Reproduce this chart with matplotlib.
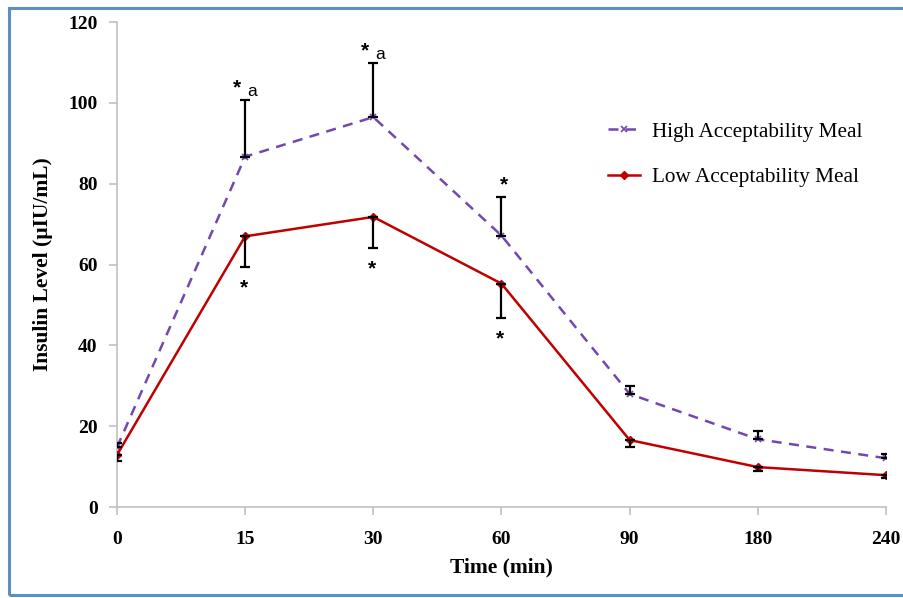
import matplotlib.pyplot as plt
from matplotlib.patches import Rectangle
import numpy as np

# data
time_labels = ['0', '15', '30', '60', '90', '180', '240']
high_meal = [14.8, 86.7, 96.5, 67.2, 28.0, 16.8, 12.1]
high_err = [1.0, 14.0, 13.4, 9.5, 2.0, 2.0, 1.0]
low_meal = [12.9, 67.0, 71.8, 55.3, 16.6, 9.9, 7.9]
low_err = [1.6, 7.6, 7.7, 8.5, 1.7, 1.0, 0.7]

# significance marks
high_marks = [1, 2]      # "* a" above high
high_star_only = [3]     # "*" above high
low_star = [1, 2, 3]     # "*" below low

x = np.arange(len(time_labels))
serif = 'Liberation Serif'
sans = 'Liberation Sans'

fig = plt.figure(figsize=(9.04, 5.98), dpi=100)
ax = fig.add_axes([0.1294, 0.152, 0.8506, 0.811])

purple = '#7447b0'
red = '#c00000'

ax.plot(x, high_meal, linestyle=(0, (4, 3)), color=purple, lw=1.8, marker='x',
        ms=5, mew=1.2, label='High Acceptability Meal', zorder=3)
ax.plot(x, low_meal, linestyle='-', color=red, lw=1.8, marker='D',
        ms=4, label='Low Acceptability Meal', zorder=3)

zeros = np.zeros(len(x))
ax.errorbar(x, high_meal, yerr=[zeros, high_err], fmt='none', ecolor='black',
            elinewidth=1.6, capsize=3.5, capthick=1.6, zorder=4)
ax.errorbar(x, low_meal, yerr=[low_err, zeros], fmt='none', ecolor='black',
            elinewidth=1.6, capsize=3.5, capthick=1.6, zorder=4)

for i in high_marks:
    top = high_meal[i] + high_err[i]
    ax.annotate('*', (x[i], top), xytext=(-6, 9), textcoords='offset points',
                ha='center', va='center', fontsize=15, family=sans, fontweight='bold')
    ax.annotate('a', (x[i], top), xytext=(5, 6), textcoords='offset points',
                ha='center', va='center', fontsize=12.5, family=sans)
for i in high_star_only:
    top = high_meal[i] + high_err[i]
    ax.annotate('*', (x[i], top), xytext=(2, 9), textcoords='offset points',
                ha='center', va='center', fontsize=15, family=sans, fontweight='bold')
for i in low_star:
    bot = low_meal[i] - low_err[i]
    ax.annotate('*', (x[i], bot), xytext=(-1, -15), textcoords='offset points',
                ha='center', va='center', fontsize=15, family=sans, fontweight='bold')

ax.set_xlim(0, len(x) - 1)
ax.set_ylim(0, 120)
ax.set_yticks(np.arange(0, 121, 20))
ax.set_xticks(x)
ax.set_xticklabels(time_labels)

for s in ['top', 'right']:
    ax.spines[s].set_visible(False)
for s in ['left', 'bottom']:
    ax.spines[s].set_color('#c0c0c0')
    ax.spines[s].set_linewidth(1.2)
ax.tick_params(axis='both', colors='#c0c0c0', length=6, width=1.2,
               labelcolor='black', labelsize=14, pad=8)
ax.tick_params(axis='x', pad=11)
for lab in ax.get_xticklabels() + ax.get_yticklabels():
    lab.set_family(serif)
    lab.set_fontweight('bold')

ax.set_xlabel('Time (min)', family=serif, fontweight='bold', fontsize=15.5, labelpad=7)
ax.set_ylabel('Insulin Level (µIU/mL)', family=serif, fontweight='bold', fontsize=15.5, labelpad=11)

leg = ax.legend(loc='upper left', bbox_to_anchor=(0.614, 0.834), frameon=False,
                prop={'family': serif, 'size': 15.3}, handlelength=1.5,
                handletextpad=0.55, labelspacing=1.22)

fig.patches.append(Rectangle((9 / 904, 3 / 598), 1.0, 1 - 11 / 598,
                             transform=fig.transFigure, fill=False,
                             edgecolor='#5b8fc8', lw=2.2))

fig.savefig('out.png', dpi=100)
